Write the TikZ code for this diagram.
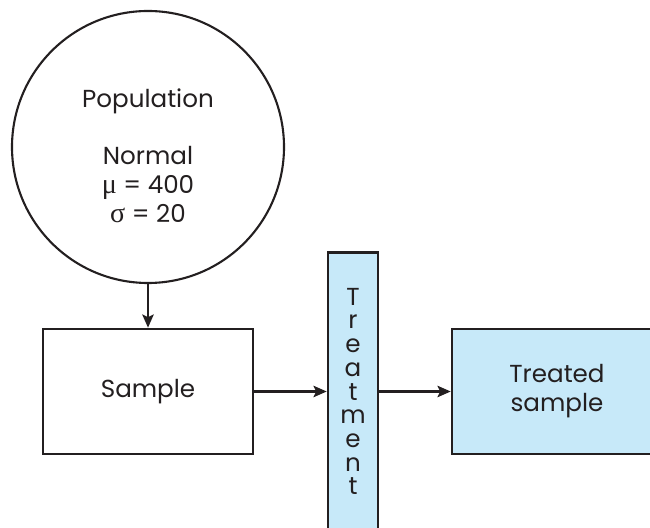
\documentclass[tikz,border=0pt]{standalone}
\usepackage{fontspec}
\setmainfont{Poppins}
\newfontfamily\greekfont{Liberation Serif}
\usepackage{tikz}
\usetikzlibrary{arrows.meta, positioning}

\definecolor{boxblue}{RGB}{199,233,249}
\definecolor{inkgray}{RGB}{35,31,32}

\begin{document}
\begin{tikzpicture}[
    every node/.style={font=\fontsize{14}{16.5}\selectfont, text=inkgray},
    box/.style={draw=inkgray, line width=1.5pt, minimum width=4.2cm, minimum height=2.5cm, align=center},
    flow/.style={-{Stealth[length=7.5pt, width=6.5pt, inset=1.5pt]}, line width=1.3pt, draw=inkgray}]
    \useasboundingbox (0,0) rectangle (13,10.54);
    \clip (0,0) rectangle (13,10.54);

    % population and samples
    \node[circle, draw=inkgray, line width=1.2pt, minimum size=5.44cm] (pop) at (2.96,7.6) {};
    \node[align=center] (poptext) at ([yshift=-0.17cm]pop.center)
        {Population\\[16pt]Normal\\{\greekfont\fontsize{16}{16}\selectfont μ} = 400\\{\greekfont\fontsize{16}{16}\selectfont σ} = 20};
    \node[box] (sample) at (2.96,2.71) {Sample};
    \node[box, fill=boxblue, font=\fontsize{14}{13.5}\selectfont, minimum width=1cm, minimum height=5.56cm] (treat) at (7.06,2.71)
        {T\\r\\e\\a\\t\\m\\e\\n\\t};
    \node[box, fill=boxblue] (treated) at (11.14,2.71) {Treated\\sample};

    \draw[flow] (pop) -- (sample);
    \draw[flow] (sample) -- (treat);
    \draw[flow] (treat) -- (treated);
\end{tikzpicture}
\end{document}
